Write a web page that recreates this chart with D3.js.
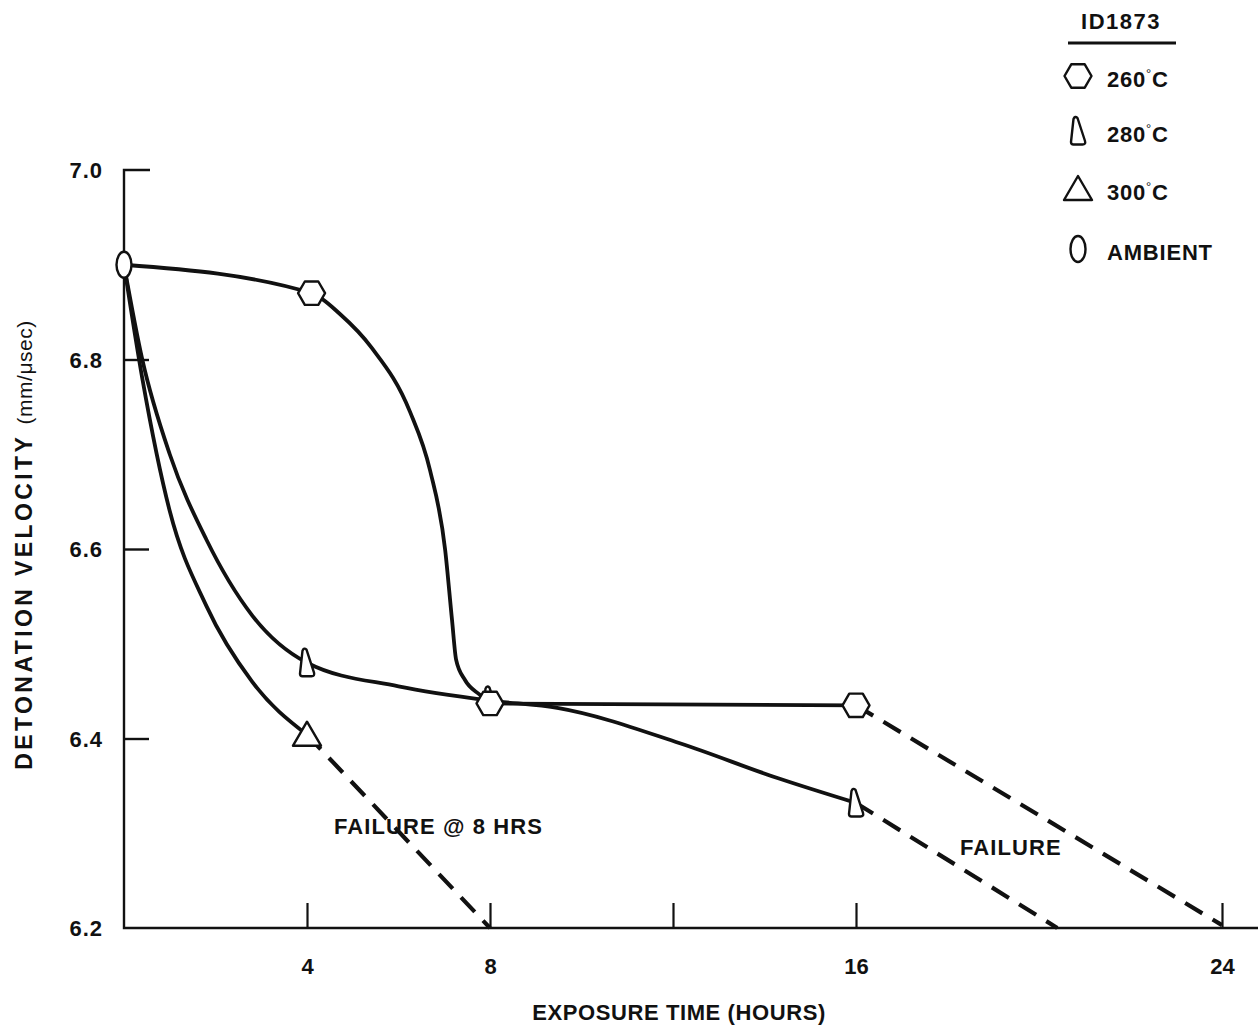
<!DOCTYPE html>
<html>
<head>
<meta charset="utf-8">
<script src="https://cdn.jsdelivr.net/npm/d3@7"></script>
<style>
  html, body { margin: 0; padding: 0; background: #fff; }
  svg { display: block; }
  text { font-family: "Liberation Sans", Arial, Helvetica, sans-serif; font-weight: bold; fill: #111; }
</style>
</head>
<body>
<svg id="chart" width="1258" height="1027"></svg>
<script>
// Exposure time ticks (hours) and velocity ticks (mm/µsec)
const xTicks = [4, 8, 12, 16, 24];
const xTickLabels = ["4", "8", "", "16", "24"];
const yTicks = [6.2, 6.4, 6.6, 6.8, 7.0];
const yTickLabels = ["6.2", "6.4", "6.6", "6.8", "7.0"];

// Measured points per condition [hours, velocity]
const ambient = [[0, 6.90]];
const pts260 = [[4.1, 6.87], [8, 6.437], [16, 6.435]];
const pts280 = [[4, 6.48], [8, 6.44], [16, 6.332]];
const pts300 = [[4, 6.404]];

// Hand-faired trend lines through the measurements
const fit260 = [[0, 6.90], [4.1, 6.87], [4.72, 6.848], [5.42, 6.812], [6.25, 6.745], [6.69, 6.683],
                [7.02, 6.599], [7.17, 6.525], [7.26, 6.483], [7.45, 6.462], [7.78, 6.446], [8, 6.437], [16, 6.435]];
const fit280 = [[0, 6.90], [0.4, 6.80], [1.0, 6.70], [1.8, 6.61], [2.8, 6.53], [4, 6.48],
                [6, 6.455], [8, 6.44], [9.5, 6.432], [12.15, 6.395], [14.3, 6.358], [16, 6.332]];
const fit300 = [[0, 6.90], [0.4, 6.78], [1.0, 6.64], [1.8, 6.54], [2.8, 6.46], [4, 6.404]];

// Extrapolated failure lines (dashed)
const fail260 = [[16, 6.435], [24, 6.203]];
const fail280 = [[16, 6.332], [20.4, 6.2]];
const fail300 = [[4, 6.404], [8, 6.2]];

const legendItems = [
  { key: "hex", label: "260", deg: true },
  { key: "wedge", label: "280", deg: true },
  { key: "tri", label: "300", deg: true },
  { key: "oval", label: "AMBIENT", deg: false }
];

const svg = d3.select("#chart");
const x = d3.scaleLinear().domain([0, 24]).range([124, 1222]);
const y = d3.scaleLinear().domain([6.2, 7.0]).range([928, 170]);

// Marker shapes
function markerPath(kind) {
  if (kind === "hex") {
    const r = 13.5, h = r * Math.sqrt(3) / 2;
    return `M${-r},0 L${-r / 2},${-h} L${r / 2},${-h} L${r},0 L${r / 2},${h} L${-r / 2},${h} Z`;
  }
  if (kind === "wedge") {
    return "M-4.5,-12 Q-3,-15.5 -0.5,-13 L7,10 Q8,13.5 4.5,13.5 L-4.5,13.5 Q-7,13.5 -7,11 Z";
  }
  if (kind === "tri") {
    return "M0,-13 L14,11 L-14,11 Z";
  }
  return null;
}
function drawMarker(g, kind, cx, cy) {
  if (kind === "oval") {
    g.append("ellipse").attr("cx", cx).attr("cy", cy).attr("rx", 7.5).attr("ry", 13)
      .attr("fill", "#fff").attr("stroke", "#111").attr("stroke-width", 2.4);
  } else {
    g.append("path").attr("d", markerPath(kind)).attr("transform", `translate(${cx},${cy})`)
      .attr("fill", "#fff").attr("stroke", "#111").attr("stroke-width", 2.4).attr("stroke-linejoin", "round");
  }
}

// Axes
const yAxis = d3.axisLeft(y).tickValues(yTicks.slice(1, 4)).tickSizeInner(-25).tickSizeOuter(0)
  .tickFormat((d, i) => yTickLabels[i + 1]);
const gy = svg.append("g").attr("transform", "translate(124,0)").call(yAxis);
gy.select(".domain").remove();
gy.selectAll(".tick line").attr("stroke", "#111").attr("stroke-width", 2.4);
gy.selectAll(".tick text").attr("x", -21).attr("dy", "0.35em")
  .style("font-size", "22px").style("letter-spacing", "1px").attr("fill", "#111");

const xAxis = d3.axisBottom(x).tickValues(xTicks).tickSizeInner(-25).tickSizeOuter(0)
  .tickFormat((d, i) => xTickLabels[i]);
const gx = svg.append("g").attr("transform", "translate(0,928)").call(xAxis);
gx.select(".domain").remove();
gx.selectAll(".tick line").attr("stroke", "#111").attr("stroke-width", 2.2);
gx.selectAll(".tick text").attr("y", 38).attr("dy", "0.35em")
  .style("font-size", "22px").attr("fill", "#111");

// Axis lines: vertical axis with top cap, horizontal axis running to the edge
svg.append("path")
  .attr("d", `M${x(0) + 26},${y(7.0)} H${x(0)} V${y(6.2)} H1258`)
  .attr("fill", "none").attr("stroke", "#111").attr("stroke-width", 2.4);

// Velocity labels at the two axis ends
[6.2, 7.0].forEach(v => {
  svg.append("text").attr("x", 103).attr("y", y(v)).attr("dy", "0.35em")
    .attr("text-anchor", "end").style("font-size", "22px").style("letter-spacing", "1px")
    .text(yTickLabels[yTicks.indexOf(v)]);
});

// Trend lines
const line = d3.line().x(d => x(d[0])).y(d => y(d[1])).curve(d3.curveMonotoneX);
const straight = d3.line().x(d => x(d[0])).y(d => y(d[1]));
const lines = svg.append("g").attr("fill", "none").attr("stroke", "#111").attr("stroke-linecap", "round");
[fit260, fit280, fit300].forEach(f => {
  lines.append("path").attr("d", line(f)).attr("stroke-width", 3.8);
});
[fail260, fail280, fail300].forEach(f => {
  lines.append("path").attr("d", straight(f)).attr("stroke-width", 4.2)
    .attr("stroke-dasharray", "20 12").attr("stroke-linecap", "butt");
});

// Markers
const mk = svg.append("g");
pts300.forEach(d => drawMarker(mk, "tri", x(d[0]), y(d[1])));
pts280.forEach(d => drawMarker(mk, "wedge", x(d[0]), y(d[1])));
pts260.forEach(d => drawMarker(mk, "hex", x(d[0]), y(d[1])));
ambient.forEach(d => drawMarker(mk, "oval", x(d[0]), y(d[1])));

// Annotations
svg.append("text").attr("x", 334).attr("y", 826).attr("dy", "0.35em")
  .style("font-size", "22px").style("letter-spacing", "1.1px").text("FAILURE  @ 8 HRS");
svg.append("text").attr("x", 960).attr("y", 847).attr("dy", "0.35em")
  .style("font-size", "22px").style("letter-spacing", "1.1px").text("FAILURE");

// Axis titles
svg.append("text").attr("x", 679).attr("y", 1012).attr("dy", "0.35em").attr("text-anchor", "middle")
  .style("font-size", "22px").style("letter-spacing", "0.6px").text("EXPOSURE TIME (HOURS)");
const yt = svg.append("text").attr("transform", "translate(24,545) rotate(-90)")
  .attr("dy", "0.35em").attr("text-anchor", "middle").style("font-size", "23px");
yt.append("tspan").style("letter-spacing", "3.4px").text("DETONATION VELOCITY ");
yt.append("tspan").style("font-weight", "normal").style("font-size", "21px").style("letter-spacing", "0.5px")
  .text("(mm/\u03BCsec)");

// Legend
const lg = svg.append("g");
lg.append("text").attr("x", 1121).attr("y", 21).attr("dy", "0.35em").attr("text-anchor", "middle")
  .style("font-size", "22px").style("letter-spacing", "1.5px").text("ID1873");
lg.append("line").attr("x1", 1068).attr("x2", 1176).attr("y1", 43).attr("y2", 43)
  .attr("stroke", "#111").attr("stroke-width", 3);
const rowY = [76, 131, 189, 249];
legendItems.forEach((it, i) => {
  drawMarker(lg, it.key, 1078, rowY[i]);
  const t = lg.append("text").attr("x", 1107).attr("y", rowY[i] + 3).attr("dy", "0.35em")
    .style("font-size", "22px").style("letter-spacing", "0.8px");
  t.append("tspan").text(it.label);
  if (it.deg) {
    t.append("tspan").attr("dy", -9).style("font-size", "13px").style("font-weight", "normal").text("\u00B0");
    t.append("tspan").attr("dy", 9).text("C");
  }
});
</script>
</body>
</html>
